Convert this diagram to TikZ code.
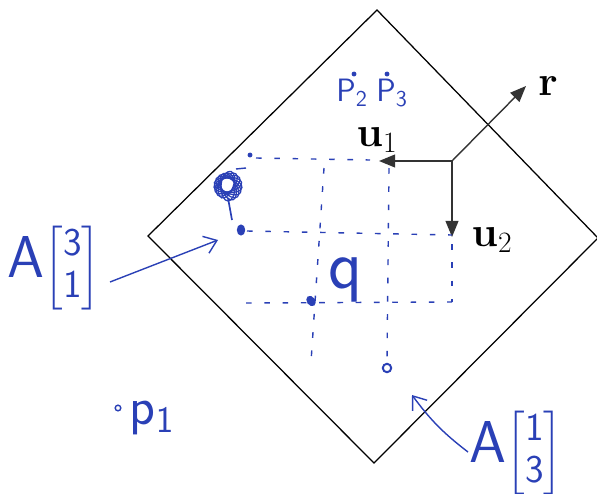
\documentclass[tikz,border=0pt]{standalone}
\usepackage{fix-cm}
\usepackage{amsmath}
\usepackage{tikz}
\usetikzlibrary{arrows.meta,positioning,calc,shapes.geometric}
\definecolor{ink}{RGB}{42,64,182}

\begin{document}
\begin{tikzpicture}[
    x=0.025cm, y=-0.025cm,
    frame/.style={draw=black, line width=0.9pt},
    axis/.style={-{Triangle[length=4mm,width=3.2mm]}, line width=1pt, draw=black!80},
    lbl/.style={font=\fontsize{30}{33}\selectfont, inner sep=0pt},
    grid/.style={draw=ink, line width=1pt, dash pattern=on 4pt off 9pt},
    dot/.style={circle, fill=ink, inner sep=0pt, minimum size=3.5pt},
    blob/.style={ellipse, fill=ink, inner sep=0pt, minimum width=6pt, minimum height=8pt},
    ring/.style={circle, draw=ink, line width=1.4pt, inner sep=0pt, minimum size=6pt},
    hand/.style={text=ink, font=\sffamily\fontsize{23}{25}\selectfont, inner sep=0pt},
    note/.style={-{Straight Barb[length=3mm,width=4.5mm]}, draw=ink, line width=1pt},
]
\useasboundingbox (0,0) rectangle (597,493);
% the square, turned on its corner
\coordinate (T) at (377,10);
\coordinate (R) at (598,238);
\coordinate (B) at (374,463);
\coordinate (L) at (148,236);
\draw[frame] (T) -- (R) -- (B) -- (L) -- cycle;
% frame at the corner
\coordinate (O) at (452,161);
\coordinate (U1) at (379,161);
\coordinate (U2) at (452,237);
\coordinate (Rt) at (526,86);
\draw[axis] (O) -- (U1);
\draw[axis] (O) -- (U2);
\draw[axis] (O) -- (Rt);
\node[lbl] (u1) at (377,140) {$\mathbf{u}_1$};
\node[lbl] (u2) at (492,240) {$\mathbf{u}_2$};
\node[lbl] (r) at (548,86) {$\mathbf{r}$};
% grid lines
\coordinate (a1) at (256,158);
\coordinate (a2) at (370,160);
\coordinate (b1) at (247,231);
\coordinate (b2) at (452,235);
\coordinate (c1) at (246,303);
\coordinate (c2) at (452,302);
\coordinate (v1) at (324,168);
\coordinate (v1e) at (311,362);
\coordinate (v2) at (389,168);
\coordinate (v2e) at (387,360);
\coordinate (v3) at (452,244);
\coordinate (v3e) at (452,302);
\draw[grid] (a1) -- (a2);
\draw[grid] (b1) -- (b2);
\draw[grid] (c1) -- (c2);
\draw[grid] (v1) -- (v1e);
\draw[grid] (v2) -- (v2e);
\draw[grid] (v3) -- (v3e);
% points
\node[dot] (d1) at (250,155) {};
\node[blob] (d2) at (241,230) {};
\node[blob, rotate=35] (d3) at (311,301) {};
\node[ring] (d4) at (387,368) {};
\node[dot] (p2) at (354,74) {};
\node[dot] (p3) at (387,74) {};
\node[ring, minimum size=4pt, line width=1pt] (p1) at (118,408) {};
% scribble
\foreach \a in {0,20,...,160}
    \draw[ink, line width=0.9pt, rotate around={\a:(227,186)}] (228,187) ellipse (7 and 14);
\draw[ink, line width=1.2pt] (228,198) -- (232,220);
\draw[ink, line width=1pt] (236,169) -- (246,168);
% labels
\node[hand] (P2) at (352,93) {$\mathsf{P}_{\mathsf{2}}$};
\node[hand] (P3) at (392,93) {$\mathsf{P}_{\mathsf{3}}$};
\node[hand, font=\sffamily\fontsize{50}{52}\selectfont] (q) at (346,280) {q};
\node[hand, font=\sffamily\fontsize{38}{40}\selectfont] (p1l) at (152,418) {$\mathsf{p}_{\mathsf{1}}$};
\node[hand, font=\sffamily\fontsize{28}{30}\selectfont] (A31) at (54,268)
    {{\fontsize{42}{44}\selectfont A}$\left[\begin{array}{@{}c@{}}\mathsf{3}\\ \mathsf{1}\end{array}\right]$};
\node[hand, font=\sffamily\fontsize{28}{30}\selectfont] (A13) at (516,453)
    {{\fontsize{42}{44}\selectfont A}$\left[\begin{array}{@{}c@{}}\mathsf{1}\\ \mathsf{3}\end{array}\right]$};
% pointers
\coordinate (n1s) at (110,282);
\coordinate (n1e) at (218,240);
\coordinate (n2s) at (468,452);
\coordinate (n2e) at (412,395);
\draw[note] (n1s) -- (n1e);
\draw[note] (n2s) to[bend left=8] (n2e);
\end{tikzpicture}
\end{document}
